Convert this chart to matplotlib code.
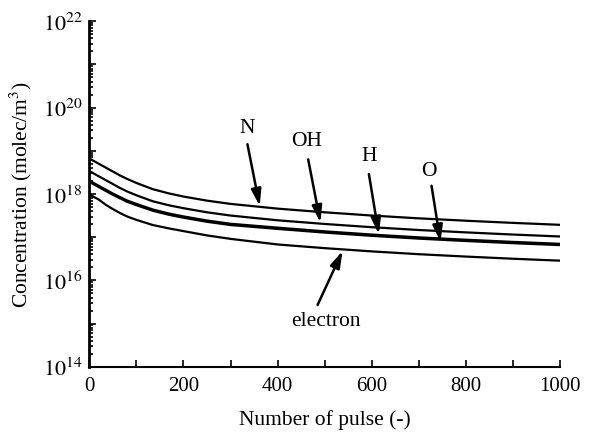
import numpy as np
import matplotlib
matplotlib.use('agg')
import matplotlib.pyplot as plt
from matplotlib.ticker import LogLocator, FuncFormatter, MultipleLocator, NullFormatter

plt.rcParams['font.family'] = ['Liberation Serif', 'DejaVu Serif']
plt.rcParams['mathtext.fontset'] = 'stix'

# pulse number and log10 of concentration (molec/m^3)
pulse = [0, 10, 20, 35, 50, 65, 80, 100, 135, 170, 200, 250, 300, 400, 500, 600, 700, 800, 900, 1000]
n_log = [18.82, 18.76, 18.70, 18.61, 18.52, 18.43, 18.35, 18.255, 18.11, 18.01,
         17.94, 17.845, 17.77, 17.66, 17.575, 17.50, 17.435, 17.38, 17.33, 17.285]
oh_log = [18.53, 18.47, 18.41, 18.32, 18.23, 18.14, 18.06, 17.97, 17.83, 17.735,
          17.67, 17.575, 17.50, 17.39, 17.305, 17.23, 17.165, 17.11, 17.06, 17.015]
h_log = [18.31, 18.25, 18.19, 18.10, 18.01, 17.93, 17.85, 17.77, 17.64, 17.545,
         17.48, 17.385, 17.31, 17.22, 17.135, 17.06, 16.995, 16.94, 16.89, 16.845]
o_log = [18.28, 18.22, 18.16, 18.07, 17.98, 17.90, 17.82, 17.74, 17.61, 17.515,
         17.45, 17.355, 17.28, 17.19, 17.105, 17.03, 16.965, 16.91, 16.86, 16.815]
e_log = [17.99, 17.93, 17.87, 17.75, 17.65, 17.56, 17.48, 17.40, 17.28, 17.20,
         17.14, 17.04, 16.96, 16.83, 16.745, 16.67, 16.605, 16.55, 16.50, 16.455]

# labels: (text, text x, text log y, arrow tail x, tail log y, head x, head log y)
labels = [
    ('N', 335, 19.55, 336, 19.15, 362, 17.72),
    ('OH', 461, 19.23, 465, 18.80, 491, 17.34),
    ('H', 594, 18.88, 594, 18.46, 615, 17.07),
    ('O', 722, 18.55, 727, 18.19, 746, 16.89),
    ('electron', 502, 15.08, 485, 15.43, 538, 16.68),
]

fig = plt.figure(figsize=(5.92, 4.35), dpi=100)
ax = fig.add_axes([0.1508, 0.1547, 0.7952, 0.7943])

for series in [n_log, oh_log, h_log, o_log, e_log]:
    ax.plot(pulse, 10 ** np.array(series), color='black', lw=1.6)

for txt, tx, ty, ax0, ay0, hx, hy in labels:
    ax.text(tx, 10 ** ty, txt, ha='center', va='center', fontsize=15.5)
    ax.annotate('', xy=(hx, 10 ** hy), xytext=(ax0, 10 ** ay0),
                arrowprops=dict(arrowstyle='-|>,head_length=1.0,head_width=0.3',
                                color='black', lw=1.8, shrinkA=0, shrinkB=0))

ax.set_yscale('log')
ax.set_xlim(0, 1000)
ax.set_ylim(1e14, 1e22)

ax.yaxis.set_major_locator(LogLocator(base=10, numticks=20))
ax.yaxis.set_minor_locator(LogLocator(base=10, subs=np.arange(2, 10), numticks=20))
ax.yaxis.set_major_formatter(FuncFormatter(
    lambda v, p: r'$10^{%d}$' % round(np.log10(v)) if round(np.log10(v)) % 2 == 0 else ''))
ax.yaxis.set_minor_formatter(NullFormatter())
ax.xaxis.set_major_locator(MultipleLocator(200))
ax.xaxis.set_minor_locator(MultipleLocator(100))

ax.spines['top'].set_visible(False)
ax.spines['right'].set_visible(False)
ax.spines['left'].set_linewidth(2.0)
ax.spines['bottom'].set_linewidth(1.5)
ax.tick_params(which='both', direction='in', width=1.2)
ax.tick_params(which='major', length=5)
ax.tick_params(which='minor', length=3)
ax.tick_params(axis='x', which='minor', length=5)
ax.tick_params(axis='x', labelsize=15, pad=7)
ax.tick_params(axis='y', labelsize=16, pad=5)

ax.set_xlabel('Number of pulse (-)', fontsize=15.5, labelpad=10)
ax.set_ylabel('Concentration (molec/m$^3$)', fontsize=15.5, labelpad=6)

plt.savefig('out.png', dpi=100)
plt.close()
